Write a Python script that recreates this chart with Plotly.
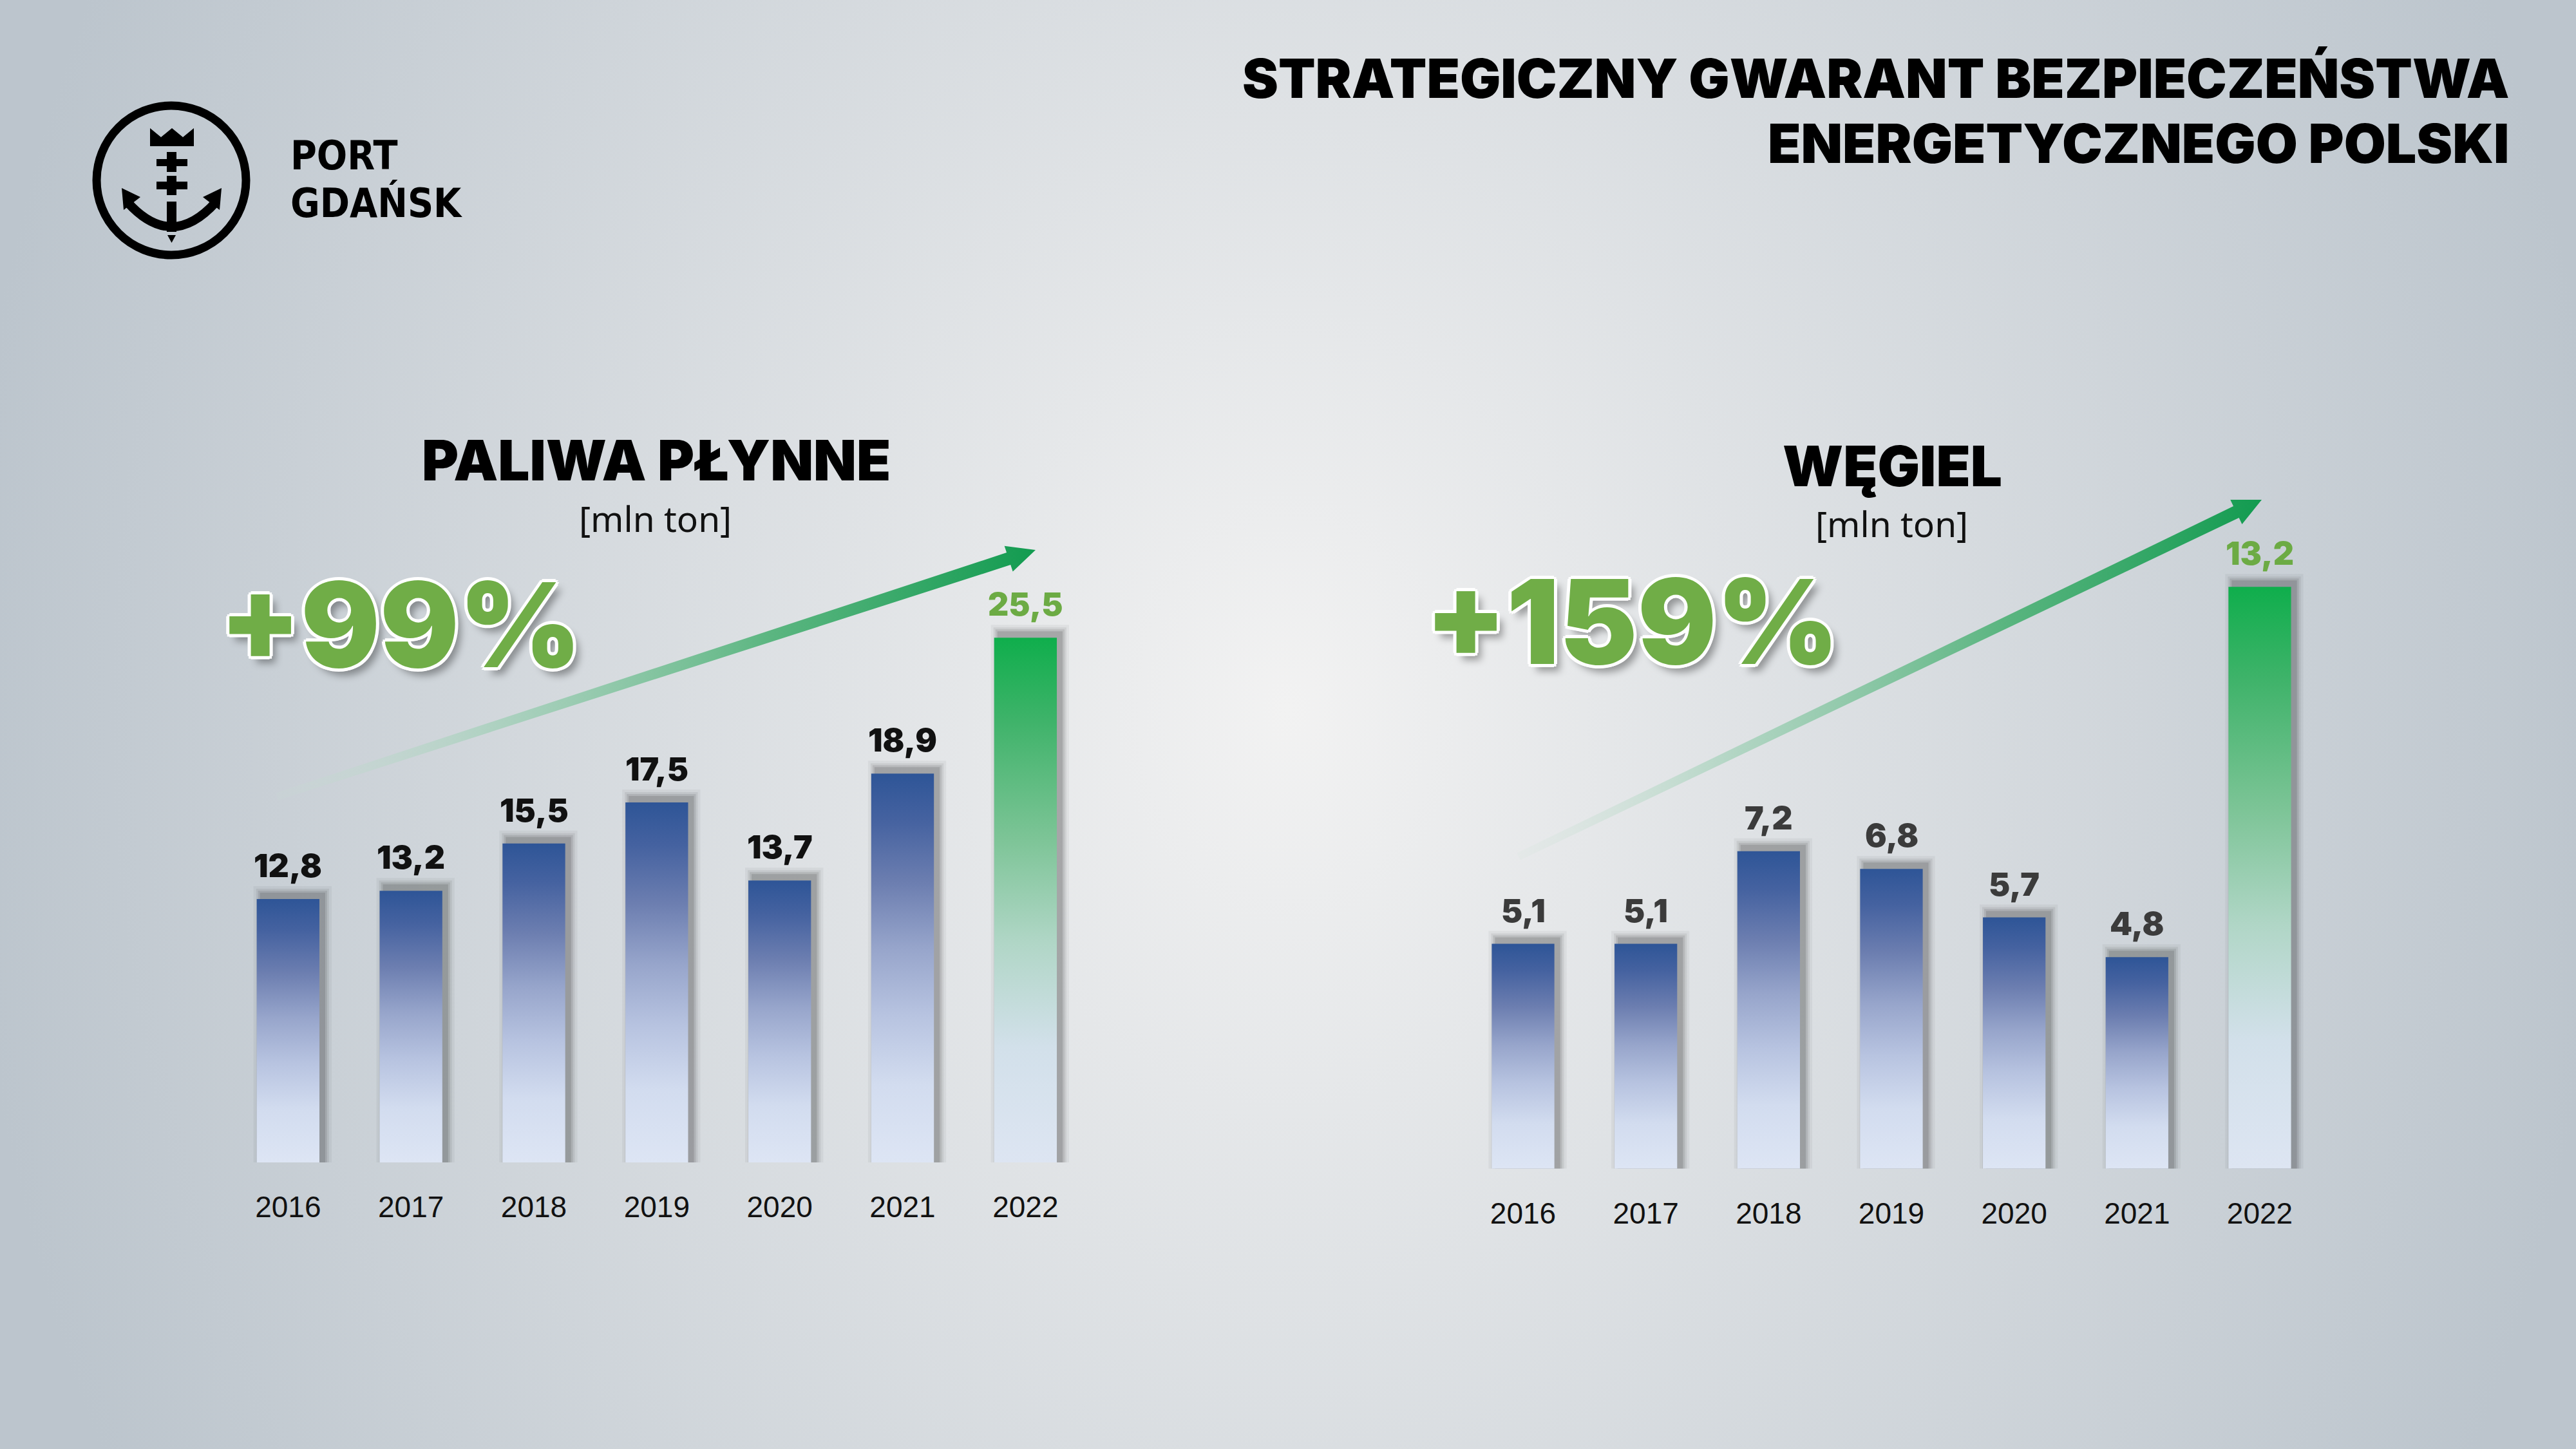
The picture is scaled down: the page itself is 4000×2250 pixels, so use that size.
import base64
import math
import plotly.graph_objects as go

# ---------------- data ----------------
years = ["2016", "2017", "2018", "2019", "2020", "2021", "2022"]
paliwa = [12.8, 13.2, 15.5, 17.5, 13.7, 18.9, 25.5]
wegiel = [5.1, 5.1, 7.2, 6.8, 5.7, 4.8, 13.2]
main_title = ["STRATEGICZNY GWARANT BEZPIECZEŃSTWA", "ENERGETYCZNEGO POLSKI"]
chart_titles = ["PALIWA PŁYNNE", "WĘGIEL"]
unit_label = "[mln ton]"
growth_labels = ["+99%", "+159%"]
logo_words = ["PORT", "GDAŃSK"]

W, H = 4000, 2250
HEAVY = "Inter, Roboto, Lato, 'Liberation Sans', sans-serif"
REG = "'Liberation Sans', Arial, sans-serif"
UNITF = "'Noto Sans', 'Open Sans', sans-serif"
LOGOF = "'DejaVu Sans Condensed', 'Liberation Sans Narrow', sans-serif"

BLUE = [[0, "#dde5f4"], [0.2, "#d2dcef"], [0.38, "#b7c3e0"], [0.55, "#97a5cb"],
        [0.72, "#6c7eb0"], [0.88, "#4562a0"], [1, "#2e5597"]]
GREEN = [[0, "#dde5f2"], [0.22, "#d2e0ea"], [0.42, "#b0d6c6"], [0.62, "#7cc496"],
         [0.84, "#3fb36a"], [1, "#0fae4c"]]
ARROW = [[0, "rgba(200,225,210,0.10)"], [0.3, "rgba(150,205,175,0.65)"],
         [0.65, "rgba(80,178,120,0.92)"], [1, "rgb(18,155,80)"]]
BW = 0.51

fig = go.Figure()

panels = [
    dict(vals=paliwa, xa="x", ya="y", xdom=[351.9 / W, 1687.8 / W],
         ydom=[1 - 1805 / H, 1 - (1805 - 30 * 31.95) / H], yr=[0, 30],
         pxx=190.85, pxy=31.95, lab="#111111"),
    dict(vals=wegiel, xa="x2", ya="y2", xdom=[2269.7 / W, 3604.3 / W],
         ydom=[1 - 1814.7 / H, 1 - (1814.7 - 14 * 68.45) / H], yr=[0, 14],
         pxx=190.7, pxy=68.45, lab="#3b3b3b"),
]

SHADOW = [(12, 0.05), (8, 0.08), (5, 0.11), (2, 0.15)]
SOX, SOY = 7, 8

annotations = []
for p in panels:
    vals = p["vals"]
    n = len(vals)
    for i, v in enumerate(vals):
        last = i == n - 1
        for ex, a in SHADOW:
            exx = ex / p["pxx"]
            exy = ex / p["pxy"]
            ox = SOX / p["pxx"]
            oy = SOY / p["pxy"]
            x0 = i - BW / 2 + ox - exx
            x1 = i + BW / 2 + ox + exx
            y1 = v + oy + exy
            fig.add_trace(go.Scatter(
                x=[x0, x1, x1, x0, x0], y=[0, 0, y1, y1, 0], fill="toself",
                fillcolor=f"rgba(40,40,40,{a})", mode="lines", line=dict(width=0),
                xaxis=p["xa"], yaxis=p["ya"], hoverinfo="skip", showlegend=False))
        fig.add_trace(go.Scatter(
            x=[i - BW / 2, i + BW / 2, i + BW / 2, i - BW / 2, i - BW / 2],
            y=[0, 0, v, v, 0], fill="toself",
            fillgradient=dict(type="vertical", colorscale=GREEN if last else BLUE),
            mode="lines", line=dict(width=0),
            xaxis=p["xa"], yaxis=p["ya"], hoverinfo="skip", showlegend=False))
        annotations.append(dict(
            x=i, y=v, xref=p["xa"], yref=p["ya"], xanchor="center", yanchor="bottom",
            yshift=20, showarrow=False, text=f"{v:.1f}".replace(".", ","),
            font=dict(family=HEAVY, size=50, weight=900,
                      color="#6cab44" if last else p["lab"])))

# ---------------- decorations on a pixel overlay axis ----------------
def arrow_poly(tail, tip, w0, w1, hw, hl):
    dx, dy = tip[0] - tail[0], tip[1] - tail[1]
    L = math.hypot(dx, dy)
    ux, uy = dx / L, dy / L
    nx, ny = -uy, ux
    bx, by = tip[0] - ux * hl, tip[1] - uy * hl
    pts = [(tail[0] + nx * w0, tail[1] + ny * w0), (bx + nx * w1, by + ny * w1),
           (bx + nx * hw, by + ny * hw), tip, (bx - nx * hw, by - ny * hw),
           (bx - nx * w1, by - ny * w1), (tail[0] - nx * w0, tail[1] - ny * w0)]
    pts.append(pts[0])
    return [q[0] for q in pts], [q[1] for q in pts]

for tail, tip in [((430, 1237), (1608, 854)), ((2358, 1330), (3512, 776))]:
    ax, ay = arrow_poly(tail, tip, 6, 10, 21, 44)
    fig.add_trace(go.Scatter(
        x=ax, y=ay, fill="toself", mode="lines", line=dict(width=0),
        fillgradient=dict(type="horizontal", colorscale=ARROW, start=tail[0], stop=tip[0]),
        xaxis="x3", yaxis="y3", hoverinfo="skip", showlegend=False))

annotations += [
    dict(x=3898, y=121, text=main_title[0], xanchor="right", yanchor="middle",
         font=dict(family=HEAVY, size=84, weight=900, color="#000")),
    dict(x=3898, y=222, text=main_title[1], xanchor="right", yanchor="middle",
         font=dict(family=HEAVY, size=84, weight=900, color="#000")),
    dict(x=1019, y=714, text=chart_titles[0], xanchor="center", yanchor="middle",
         font=dict(family=HEAVY, size=87, weight=900, color="#000")),
    dict(x=1017, y=804, text=unit_label, xanchor="center", yanchor="middle",
         font=dict(family=UNITF, size=55, color="#111")),
    dict(x=2938, y=723, text=chart_titles[1], xanchor="center", yanchor="middle",
         font=dict(family=HEAVY, size=87, weight=900, color="#000")),
    dict(x=2937, y=812, text=unit_label, xanchor="center", yanchor="middle",
         font=dict(family=UNITF, size=55, color="#111")),
]
OUTLINE = ("5px 0 0 #fff, -5px 0 0 #fff, 0 5px 0 #fff, 0 -5px 0 #fff, "
           "3.5px 3.5px 0 #fff, -3.5px 3.5px 0 #fff, 3.5px -3.5px 0 #fff, "
           "-3.5px -3.5px 0 #fff, 9px 11px 12px rgba(0,0,0,0.35)")
for txt, cx, cy in [(growth_labels[0], 622, 970), (growth_labels[1], 2534, 965)]:
    annotations.append(dict(x=cx, y=cy, text=txt, xanchor="center", yanchor="middle",
                            font=dict(family=HEAVY, size=182, weight=900,
                                      color="#70ad47", shadow=OUTLINE)))
annotations += [
    dict(x=449, y=241, text=logo_words[0], xanchor="left", yanchor="middle",
         font=dict(family=LOGOF, size=62, weight=700, color="#000")),
    dict(x=449, y=315, text=logo_words[1], xanchor="left", yanchor="middle",
         font=dict(family=LOGOF, size=62, weight=700, color="#000")),
]
for a in annotations:
    a.setdefault("xref", "x3")
    a.setdefault("yref", "y3")
    a.setdefault("showarrow", False)

blk = "#000"
shapes = [
    dict(type="circle", x0=150, x1=382, y0=164, y1=396, line=dict(color=blk, width=13)),
    dict(type="path", path="M 233 227 L 233 199 L 250 213 L 267 199 L 284 213 L 301 199 L 301 227 Z",
         fillcolor=blk, line=dict(width=0)),
    dict(type="rect", x0=259, x1=274, y0=236, y1=267, fillcolor=blk, line=dict(width=0)),
    dict(type="rect", x0=243, x1=291, y0=247, y1=258, fillcolor=blk, line=dict(width=0)),
    dict(type="rect", x0=259, x1=274, y0=273, y1=303, fillcolor=blk, line=dict(width=0)),
    dict(type="rect", x0=243, x1=291, y0=282, y1=294, fillcolor=blk, line=dict(width=0)),
    dict(type="rect", x0=259, x1=274, y0=313, y1=360, fillcolor=blk, line=dict(width=0)),
    dict(type="path", path="M 198 314 Q 266.5 390 335 314", line=dict(color=blk, width=14)),
    dict(type="path", path="M 189 292 L 192 326 L 218 306 Z", fillcolor=blk, line=dict(width=0)),
    dict(type="path", path="M 344 292 L 341 326 L 315 306 Z", fillcolor=blk, line=dict(width=0)),
    dict(type="path", path="M 260 365 L 273 365 L 266.5 377 Z", fillcolor=blk, line=dict(width=0)),
]
for s in shapes:
    s["xref"] = "x3"
    s["yref"] = "y3"

svg = ('<svg xmlns="http://www.w3.org/2000/svg" width="4000" height="2250" viewBox="0 0 4000 2250" '
       'preserveAspectRatio="none"><defs><radialGradient id="g" gradientUnits="userSpaceOnUse" '
       'cx="0" cy="0" r="1" gradientTransform="translate(2000 1100) scale(2060 2590)">'
       '<stop offset="0" stop-color="#f2f2f2"/><stop offset="1" stop-color="#bcc5cd"/>'
       '</radialGradient></defs><rect width="4000" height="2250" fill="url(#g)"/></svg>')
bg = "data:image/svg+xml;base64," + base64.b64encode(svg.encode()).decode()

axis_common = dict(showgrid=False, zeroline=False, showline=False, fixedrange=True)
xticks = dict(tickmode="array", tickvals=list(range(len(years))), ticktext=years, ticks="",
              tickfont=dict(family=REG, size=46, color="#111"), ticklabelstandoff=38,
              range=[-0.5, len(years) - 0.5])

fig.update_layout(
    width=W, height=H, margin=dict(l=0, r=0, t=0, b=0),
    paper_bgcolor="#dfe3e7", plot_bgcolor="rgba(0,0,0,0)",
    showlegend=False, hovermode=False,
    xaxis=dict(domain=panels[0]["xdom"], anchor="y", **xticks, **axis_common),
    yaxis=dict(domain=panels[0]["ydom"], anchor="x", range=panels[0]["yr"], visible=False, **axis_common),
    xaxis2=dict(domain=panels[1]["xdom"], anchor="y2", **xticks, **axis_common),
    yaxis2=dict(domain=panels[1]["ydom"], anchor="x2", range=panels[1]["yr"], visible=False, **axis_common),
    xaxis3=dict(domain=[0, 1], anchor="y3", range=[0, W], visible=False, **axis_common),
    yaxis3=dict(domain=[0, 1], anchor="x3", range=[H, 0], visible=False, **axis_common),
    annotations=annotations, shapes=shapes,
    images=[dict(source=bg, xref="paper", yref="paper", x=0, y=1, sizex=1, sizey=1,
                 xanchor="left", yanchor="top", sizing="stretch", layer="below")],
)

fig.write_html("out.html", config={"displayModeBar": False},
               post_script="document.body.style.margin='0';document.body.style.overflow='hidden';")
